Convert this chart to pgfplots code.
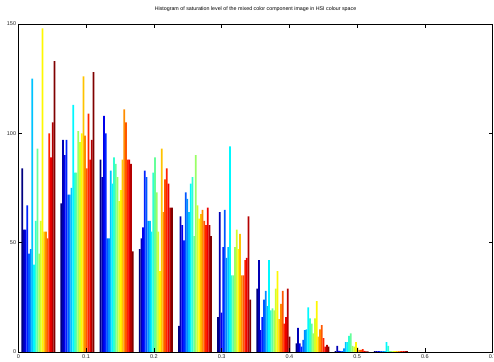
\documentclass[border=0pt]{standalone}
\usepackage{fontspec}
\setmainfont{Liberation Sans}
\usepackage{pgfplots}
\pgfplotsset{compat=1.18}
\usepackage{pgfplotstable}
\definecolor{jet0}{rgb}{0,0,0.5}
\definecolor{jet1}{rgb}{0,0,0.711}
\definecolor{jet2}{rgb}{0,0,0.921}
\definecolor{jet3}{rgb}{0,0.132,1}
\definecolor{jet4}{rgb}{0,0.342,1}
\definecolor{jet5}{rgb}{0,0.553,1}
\definecolor{jet6}{rgb}{0,0.763,1}
\definecolor{jet7}{rgb}{0,0.974,1}
\definecolor{jet8}{rgb}{0.184,1,0.816}
\definecolor{jet9}{rgb}{0.395,1,0.605}
\definecolor{jet10}{rgb}{0.605,1,0.395}
\definecolor{jet11}{rgb}{0.816,1,0.184}
\definecolor{jet12}{rgb}{1,0.974,0}
\definecolor{jet13}{rgb}{1,0.763,0}
\definecolor{jet14}{rgb}{1,0.553,0}
\definecolor{jet15}{rgb}{1,0.342,0}
\definecolor{jet16}{rgb}{1,0.132,0}
\definecolor{jet17}{rgb}{0.921,0,0}
\definecolor{jet18}{rgb}{0.711,0,0}
\definecolor{jet19}{rgb}{0.5,0,0}
\pgfplotstableread{
x      s0  s1  s2  s3  s4  s5  s6  s7  s8  s9  s10 s11 s12 s13 s14 s15 s16 s17 s18 s19
0.0295 84  56  56  67  45  47  125 40  60  93  45  60  148 55  55  52  100 89  105 133
0.0873 68  97  90  97  72  72  75  113 82  82  101 96  100 126 99  84  109 88  97  128
0.1451 88  80  108 100 52  52  83  77  89  86  80  69  74  88  111 105 88  88  86  46
0.2029 47  52  57  83  80  60  60  55  82  89  73  55  37  93  64  79  84  77  66  66
0.2607 12  62  58  51  73  70  64  77  80  53  90  67  61  63  65  60  58  66  58  53
0.3185 16  64  18  48  65  43  48  94  35  35  48  56  47  54  35  35  42  43  62  24
0.3763 29  42  10  16  24  28  21  42  19  20  19  29  37  15  22  28  13  16  29  7
0.4341 4   11  4   2.5 5.5 10  10.4 20.4 15.4 13 8.5 15.4 23.3 7 10.4 12.3 6.3 2.5 3.3 2.5
0.4919 0.4 2.8 0.5 0.4 0.4 1.7 4.5 4.5 7.4 8.5 2.8 2.5 4.5 2   1   1   1.3 0.5 0.3 0.3
0.5497 0.4 0.4 0.4 0.4 0.4 0.4 0.4 4.5 2.8 0.4 0.4 0.4 0.4 0.4 0.4 0.4 0.4 0.4 0.4 0.4
}\histdata
\begin{document}
\begin{tikzpicture}
\begin{axis}[
  scale only axis, width=474.4pt, height=328pt,
  xmin=0, xmax=0.7, ymin=0, ymax=150,
  xtick={0,0.1,0.2,0.3,0.4,0.5,0.6,0.7}, ytick={0,50,100,150},
  scaled x ticks=false,
  xticklabel style={/pgf/number format/fixed},
  tick align=inside, tick pos=both, major tick length=4pt,
  tick style={black, line width=0.6pt},
  axis line style={black, line width=0.8pt},
  axis on top,
  /pgf/number format/assume math mode=true,
  ticklabel style={font=\fontsize{5.5}{6}\selectfont, text=black!85},
  yticklabel style={inner sep=0pt, xshift=-2pt},
  xticklabel style={inner sep=0pt, yshift=-2.5pt},
  title={Histogram of saturation level of the mixed color component image in HSI colour space},
  title style={font=\fontsize{5.3}{6}\selectfont, at={(0.5,1)}, anchor=base, yshift=7pt, inner sep=0pt},
]
\pgfplotsinvokeforeach{0,...,19}{
  \addplot[ybar, bar width=0.0026, bar shift=0pt, fill=jet#1, draw=none]
    table[x expr={\thisrow{x}+(#1-9.5)*0.0025}, y=s#1]{\histdata};
}
\end{axis}
\pgfresetboundingbox
\path[use as bounding box] ([xshift=-18.3pt,yshift=-9pt]current axis.south west) rectangle ([xshift=1.3pt,yshift=24pt]current axis.north east);
\end{tikzpicture}
\end{document}
